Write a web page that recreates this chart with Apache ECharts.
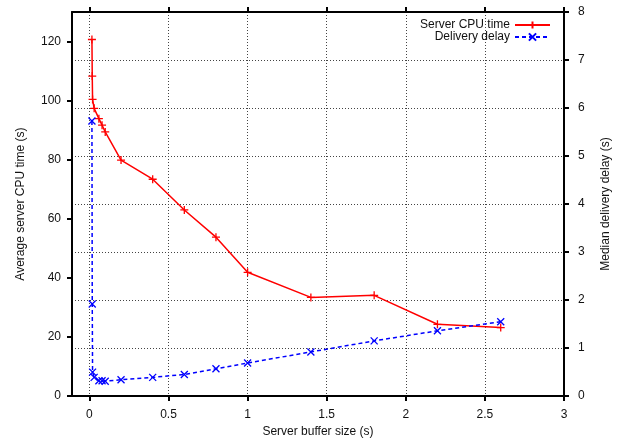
<!DOCTYPE html>
<html>
<head>
<meta charset="utf-8">
<script src="https://cdn.jsdelivr.net/npm/echarts@6/dist/echarts.min.js"></script>
<style>html,body{margin:0;padding:0;background:#fff;}#c{width:621px;height:443px;}</style>
</head>
<body>
<div id="c"></div>
<script>
const bufferSize = [0.016, 0.018, 0.02, 0.03, 0.06, 0.08, 0.1, 0.2, 0.4, 0.6, 0.8, 1.0, 1.4, 1.8, 2.2, 2.6];
const cpuTime = [120.7, 108.3, 100.4, 97.4, 93.9, 91.7, 89.4, 79.9, 73.4, 63.0, 53.8, 41.9, 33.4, 34.1, 24.3, 23.2];
const delay = [5.73, 1.92, 0.50, 0.39, 0.32, 0.32, 0.31, 0.34, 0.39, 0.45, 0.57, 0.69, 0.92, 1.15, 1.36, 1.55];
const xTicks = [0, 0.5, 1, 1.5, 2, 2.5, 3];
const cpuTicks = [0, 20, 40, 60, 80, 100, 120];
const seriesNames = ['Server CPU time', 'Delivery delay'];
const axisNames = ['Server buffer size (s)', 'Average server CPU time (s)', 'Median delivery delay (s)'];

const FONT = 'Liberation Sans, Arial, sans-serif';
const TXT = '#111';
const plusPath = 'path://M0,5 L10,5 M5,0 L5,10';
const crossPath = 'path://M0,0 L10,10 M0,10 L10,0';
const gridLine = { show: true, lineStyle: { color: '#444', width: 1, type: [1, 2] } };
const axisLine = { show: true, onZero: false, lineStyle: { color: '#000', width: 2 } };
const tick = (vals) => ({ show: true, inside: false, length: 5, lineStyle: { color: '#000', width: 2 }, customValues: vals });

const chart = echarts.init(document.getElementById('c'), null, { renderer: 'canvas' });
chart.setOption({
  animation: false,
  backgroundColor: '#fff',
  textStyle: { fontFamily: FONT, color: TXT },
  grid: { left: 72, right: 57, top: 12, bottom: 45, containLabel: false },
  legend: {
    orient: 'vertical', right: 70, top: 19, align: 'right', padding: 0,
    itemWidth: 35, itemHeight: 9, itemGap: 0,
    textStyle: { fontFamily: FONT, fontSize: 12, color: TXT },
    data: seriesNames
  },
  xAxis: [
    {
      type: 'value', position: 'bottom', min: -0.11, max: 3,
      name: axisNames[0], nameLocation: 'middle', nameGap: 28,
      nameTextStyle: { fontFamily: FONT, fontSize: 12, color: TXT },
      axisLine: axisLine, axisTick: tick(xTicks),
      axisLabel: { customValues: xTicks, margin: 13, fontFamily: FONT, fontSize: 12, color: TXT },
      splitLine: gridLine
    },
    {
      type: 'value', position: 'top', min: -0.11, max: 3,
      axisLine: axisLine, axisTick: tick(xTicks),
      axisLabel: { show: false }, splitLine: { show: false }
    }
  ],
  yAxis: [
    {
      type: 'value', position: 'left', min: 0, max: 130,
      name: axisNames[1], nameLocation: 'middle', nameGap: 45, nameRotate: 90,
      nameTextStyle: { fontFamily: FONT, fontSize: 12, color: TXT },
      axisLine: axisLine, axisTick: tick(cpuTicks),
      axisLabel: { customValues: cpuTicks, margin: 11, fontFamily: FONT, fontSize: 12, color: TXT },
      splitLine: { show: false }
    },
    {
      type: 'value', position: 'right', min: 0, max: 8, interval: 1,
      name: axisNames[2], nameLocation: 'middle', nameGap: 36, nameRotate: 90,
      nameTextStyle: { fontFamily: FONT, fontSize: 12, color: TXT },
      axisLine: axisLine,
      axisTick: { show: true, inside: false, length: 5, lineStyle: { color: '#000', width: 2 } },
      axisLabel: { margin: 14, fontFamily: FONT, fontSize: 12, color: TXT },
      splitLine: gridLine
    }
  ],
  series: [
    {
      name: seriesNames[0], type: 'line', xAxisIndex: 0, yAxisIndex: 0,
      data: bufferSize.map((x, i) => [x, cpuTime[i]]),
      symbol: plusPath, symbolSize: 8, showAllSymbol: true,
      lineStyle: { color: '#ff0000', width: 1.5, type: 'solid' },
      itemStyle: { color: 'rgba(0,0,0,0)', borderColor: '#ff0000', borderWidth: 1.3 },
      emphasis: { disabled: true }, z: 3
    },
    {
      name: seriesNames[1], type: 'line', xAxisIndex: 0, yAxisIndex: 1,
      data: bufferSize.map((x, i) => [x, delay[i]]),
      symbol: crossPath, symbolSize: 7, showAllSymbol: true,
      lineStyle: { color: '#0000ff', width: 1.5, type: [4, 3] },
      itemStyle: { color: 'rgba(0,0,0,0)', borderColor: '#0000ff', borderWidth: 1.3 },
      emphasis: { disabled: true }, z: 4
    }
  ]
});
</script>
</body>
</html>
